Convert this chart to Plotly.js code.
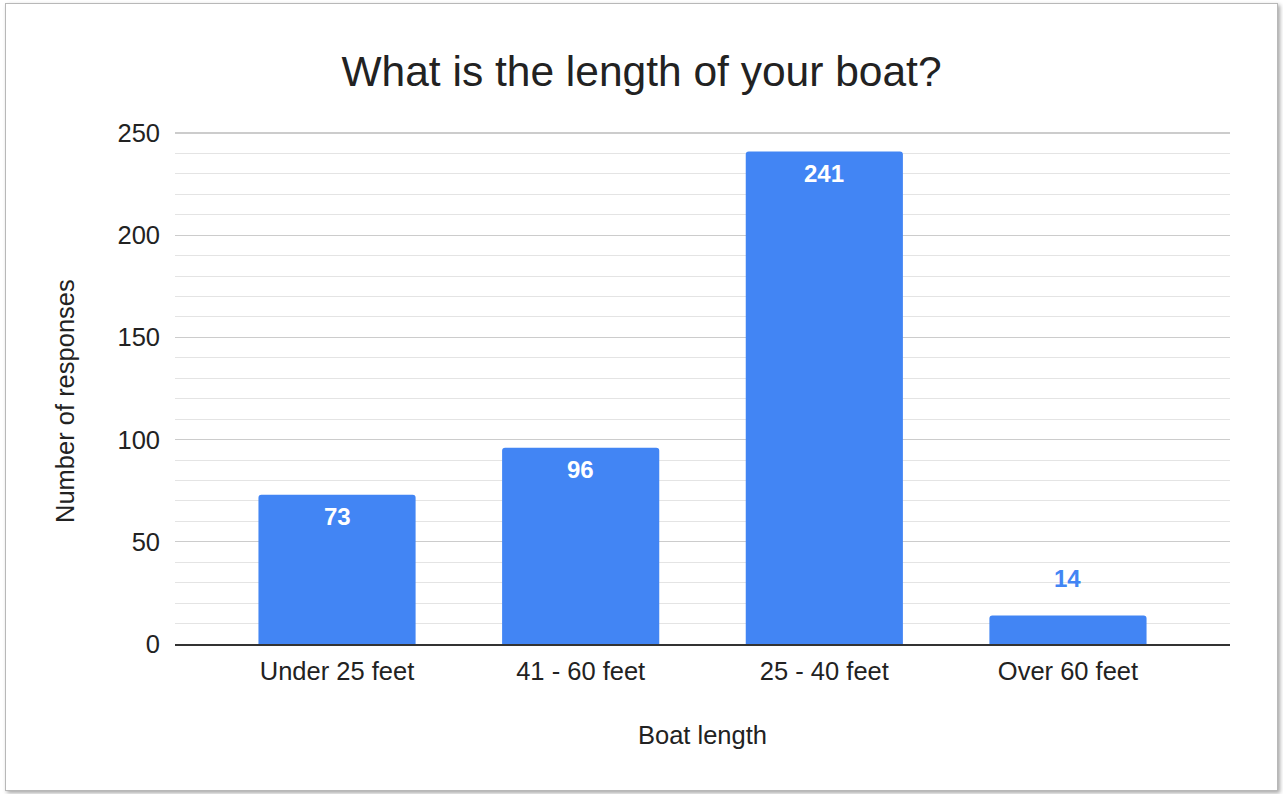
<!DOCTYPE html>
<html>
<head>
<meta charset="utf-8">
<script src="https://cdn.plot.ly/plotly-3.0.1.min.js"></script>
<style>
html,body{margin:0;padding:0;background:#fff;}
#wrap{position:relative;width:1283px;height:794px;overflow:hidden;}
#chart{position:absolute;left:0;top:0;width:1283px;height:794px;}
#frame{position:absolute;left:5px;top:3px;width:1271px;height:786px;border:1px solid #b8b8b8;box-shadow:2px 2px 4px rgba(0,0,0,0.35);pointer-events:none;}
</style>
</head>
<body>
<div id="wrap">
<div id="chart"></div>
<div id="frame"></div>
</div>
<script>
const categories = ["Under 25 feet", "41 - 60 feet", "25 - 40 feet", "Over 60 feet"];
const responses = [73, 96, 241, 14];
const yTickValues = [0, 50, 100, 150, 200, 250];

const FONT = "Liberation Sans, Arial, sans-serif";
const BLUE = "#4285F4";
const TXT = "#222222";

const annotations = categories.map((c, i) => {
  const v = responses[i];
  const inside = v > 30;
  return {
    x: c, y: v, xref: "x", yref: "y",
    text: "<b>" + v + "</b>",
    showarrow: false,
    yanchor: "middle",
    yshift: inside ? -22 : 37,
    font: {family: FONT, size: 24, color: inside ? "#ffffff" : BLUE}
  };
});
annotations.push({
  xref: "paper", yref: "paper", x: 0, y: 0.5,
  xshift: -110, yshift: -13,
  text: "Number of responses",
  textangle: -90,
  showarrow: false,
  xanchor: "center", yanchor: "middle",
  font: {family: FONT, size: 25.5, color: TXT}
});

Plotly.newPlot("chart", [{
  type: "bar",
  x: categories,
  y: responses,
  width: 0.645,
  marker: {color: BLUE, cornerradius: 3},
  hoverinfo: "x+y"
}], {
  width: 1283, height: 794,
  margin: {l: 175, r: 53, t: 132, b: 150},
  paper_bgcolor: "#ffffff",
  plot_bgcolor: "#ffffff",
  font: {family: FONT, color: TXT, size: 25},
  title: {text: "What is the length of your boat?", font: {family: FONT, size: 42.5, color: TXT}, x: 0.5, xanchor: "center", y: 0.91, yanchor: "middle"},
  xaxis: {
    range: [-0.665, 3.665],
    showgrid: false,
    showline: true, linecolor: "#333333", linewidth: 1.5,
    ticks: "", ticklabelstandoff: 4,
    tickfont: {family: FONT, size: 25.5, color: TXT},
    title: {text: "Boat length", font: {family: FONT, size: 25.5, color: TXT}, standoff: 42}
  },
  yaxis: {
    range: [0, 250.5],
    tickvals: yTickValues,
    ticks: "", ticklabelstandoff: 14,
    showgrid: true, gridcolor: "#cccccc", gridwidth: 1.3,
    zeroline: false,
    minor: {dtick: 10, showgrid: true, gridcolor: "#e4e4e4", gridwidth: 1},
    tickfont: {family: FONT, size: 25.5, color: TXT}
  },
  annotations: annotations,
  showlegend: false,
  bargap: 0.35
}, {displayModeBar: false, staticPlot: true});
</script>
</body>
</html>
